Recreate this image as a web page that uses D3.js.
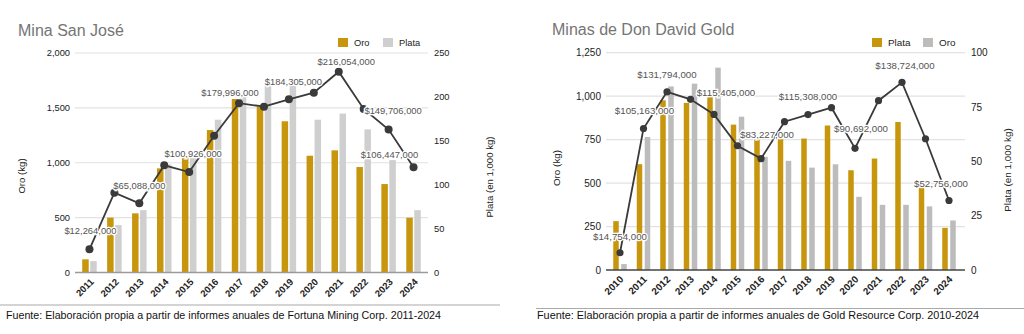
<!DOCTYPE html>
<html>
<head>
<meta charset="utf-8">
<script src="https://cdn.jsdelivr.net/npm/d3@7"></script>
<style>
  html, body { margin: 0; padding: 0; background: #fff; }
  svg { display: block; font-family: "Liberation Sans", Arial, sans-serif; }
</style>
</head>
<body>
<svg id="chart" width="1024" height="334"></svg>
<script>
// ---- Mina San José (Fortuna Mining) ----
const sjYears = ["2011","2012","2013","2014","2015","2016","2017","2018","2019","2020","2021","2022","2023","2024"];
const sjOro = [120, 500, 539, 949, 1046, 1298, 1581, 1511, 1378, 1064, 1113, 961, 806, 499];          // kg
const sjPlata = [13, 54, 71, 123, 132, 174, 200, 213, 213, 174, 181, 163, 128, 71];                    // 1,000 kg
const sjValor = [12.264, 77.2, 65.088, 108.7, 100.926, 142.6, 179.996, 175.9, 184.305, 192.0, 216.054, 173.3, 149.706, 106.447]; // USD millions
const sjLabeled = ["2011","2013","2015","2017","2019","2021","2023","2024"];
const sjOroTicks = [0, 500, 1000, 1500, 2000];
const sjPlataTicks = [0, 50, 100, 150, 200, 250];

// ---- Minas de Don David Gold (Gold Resource) ----
const ddYears = ["2010","2011","2012","2013","2014","2015","2016","2017","2018","2019","2020","2021","2022","2023","2024"];
const ddPlata = [22.5, 48.7, 78.1, 76.9, 79.6, 66.9, 60.0, 60.2, 60.5, 66.5, 45.9, 51.3, 68.1, 38.0, 19.4]; // 1,000 kg
const ddOro = [34, 765, 1056, 1072, 1164, 882, 651, 628, 589, 608, 421, 375, 375, 366, 285];                 // kg
const ddValor = [14.754, 105.163, 131.794, 126.4, 115.405, 92.6, 83.227, 110.1, 115.308, 120.3, 90.692, 125.4, 138.724, 97.7, 52.756]; // USD millions
const ddLabeled = ["2010","2011","2012","2014","2016","2018","2020","2022","2024"];
const ddOroTicks = [0, 250, 500, 750, 1000, 1250];
const ddPlataTicks = [0, 25, 50, 75, 100];

const GOLD = "#c8960c";
const svg = d3.select("#chart");
svg.append("rect").attr("width", 1024).attr("height", 334).attr("fill", "#fff");

const money = v => "$" + d3.format(",")(Math.round(v * 1e6));

function drawPanel(cfg) {
  const g = svg.append("g");
  const x = d3.scaleBand().domain(cfg.years).range(cfg.bandRange).padding(0);
  const yL = d3.scaleLinear().domain([0, cfg.leftTicks[cfg.leftTicks.length - 1]]).range([cfg.bottom, cfg.top]);
  const yR = d3.scaleLinear().domain([0, cfg.rightTicks[cfg.rightTicks.length - 1]]).range([cfg.bottom, cfg.top]);
  const yV = d3.scaleLinear().domain(cfg.valueDomain).range([cfg.bottom, cfg.top]);

  // title
  g.append("text").attr("x", cfg.titleX).attr("y", cfg.titleY)
    .attr("font-size", 16).attr("fill", "#757575").text(cfg.title);

  // gridlines
  g.append("g").selectAll("line").data(cfg.leftTicks.filter(t => t > 0)).join("line")
    .attr("x1", cfg.left).attr("x2", cfg.right)
    .attr("y1", d => yL(d)).attr("y2", d => yL(d))
    .attr("stroke", "#e2e2e2").attr("stroke-width", 1.2);

  // left axis labels
  g.append("g").selectAll("text").data(cfg.leftTicks).join("text")
    .attr("x", cfg.left - 5).attr("y", d => yL(d)).attr("dy", "0.35em")
    .attr("text-anchor", "end").attr("font-size", cfg.tickFont).attr("fill", "#222")
    .text(d => d3.format(",")(d));
  // right axis labels
  g.append("g").selectAll("text").data(cfg.rightTicks).join("text")
    .attr("x", cfg.right + 6).attr("y", d => yR(d)).attr("dy", "0.35em")
    .attr("text-anchor", "start").attr("font-size", cfg.tickFont).attr("fill", "#222")
    .text(d => d3.format(",")(d));

  // axis titles
  g.append("text").attr("transform", `translate(${cfg.leftTitleX},${cfg.leftTitleY}) rotate(-90)`)
    .attr("text-anchor", "middle").attr("font-size", cfg.axisTitleFont).attr("fill", "#222").text(cfg.leftTitle);
  g.append("text").attr("transform", `translate(${cfg.rightTitleX},${cfg.rightTitleY}) rotate(-90)`)
    .attr("text-anchor", "middle").attr("font-size", cfg.axisTitleFont).attr("fill", "#222").text(cfg.rightTitle);

  // bars: first series (left in each pair), second series (right)
  const bw = cfg.barWidth, gap = cfg.barGap;
  const cx = d => x(d) + x.bandwidth() / 2;
  cfg.series.forEach((s, si) => {
    const scale = s.axis === "left" ? yL : yR;
    const off = si === 0 ? -gap / 2 - bw : gap / 2;
    g.append("g").selectAll("rect").data(cfg.years).join("rect")
      .attr("x", (d) => cx(d) + off)
      .attr("width", bw)
      .attr("y", (d, i) => scale(s.values[i]))
      .attr("height", (d, i) => cfg.bottom - scale(s.values[i]))
      .attr("fill", s.color);
  });

  // baseline
  g.append("line").attr("x1", cfg.left).attr("x2", cfg.right)
    .attr("y1", cfg.bottom).attr("y2", cfg.bottom)
    .attr("stroke", cfg.baseColor).attr("stroke-width", 1.3);

  // x labels
  g.append("g").selectAll("text").data(cfg.years).join("text")
    .attr("transform", d => `translate(${cx(d) + cfg.xLabelDx},${cfg.bottom + cfg.xLabelDy}) rotate(-45)`)
    .attr("text-anchor", "end").attr("font-size", cfg.xFont).attr("fill", "#222")
    .attr("font-weight", "bold")
    .text(d => d);

  // value line
  const line = d3.line().x((d, i) => cx(cfg.years[i])).y(d => yV(d));
  g.append("path").datum(cfg.valor).attr("d", line)
    .attr("fill", "none").attr("stroke", "#3a3a3a").attr("stroke-width", 1.8);
  g.append("g").selectAll("circle").data(cfg.valor).join("circle")
    .attr("cx", (d, i) => cx(cfg.years[i])).attr("cy", d => yV(d))
    .attr("r", cfg.dotR).attr("fill", "#3a3a3a");

  // annotations
  g.append("g").selectAll("text").data(cfg.labeled).join("text")
    .attr("x", d => { const i = cfg.years.indexOf(d); return cx(d) + (cfg.labelOffsets[d] || [0, 0])[0]; })
    .attr("y", d => { const i = cfg.years.indexOf(d); return yV(cfg.valor[i]) + (cfg.labelOffsets[d] || [0, -14])[1]; })
    .attr("text-anchor", "middle").attr("font-size", cfg.annoFont).attr("fill", "#555")
    .attr("stroke", "#fff").attr("stroke-width", 2.5).attr("paint-order", "stroke")
    .text(d => money(cfg.valor[cfg.years.indexOf(d)]));

  // legend
  const lg = g.append("g");
  cfg.series.forEach((s, si) => {
    const lx = cfg.legendX[si];
    lg.append("rect").attr("x", lx).attr("y", cfg.legendY).attr("width", 10).attr("height", 9).attr("fill", s.color);
    lg.append("text").attr("x", lx + 16).attr("y", cfg.legendY + 8).attr("font-size", cfg.legendFont)
      .attr("fill", "#222").text(s.name);
  });

  // source note
  g.append("line").attr("x1", cfg.noteLine[0]).attr("x2", cfg.noteLine[1])
    .attr("y1", cfg.noteLineY).attr("y2", cfg.noteLineY).attr("stroke", "#aaa").attr("stroke-width", 1.2);
  g.append("text").attr("x", cfg.noteX).attr("y", cfg.noteY).attr("font-size", 10.5).attr("fill", "#111")
    .attr("textLength", cfg.noteLen).attr("lengthAdjust", "spacingAndGlyphs")
    .text(cfg.note);
}

drawPanel({
  title: "Mina San José", titleX: 18, titleY: 36,
  years: sjYears, valor: sjValor, labeled: sjLabeled,
  left: 75, right: 428, top: 53, bottom: 272.5, bandRange: [77, 426],
  leftTicks: sjOroTicks, rightTicks: sjPlataTicks, valueDomain: [-14.3, 237.5],
  series: [
    { name: "Oro", values: sjOro, axis: "left", color: GOLD },
    { name: "Plata", values: sjPlata, axis: "right", color: "#cfcfcf" }
  ],
  barWidth: 6.5, barGap: 1.5, dotR: 4,
  tickFont: 9.3, xFont: 9.5, annoFont: 9.4, legendFont: 9.3, axisTitleFont: 9.6,
  baseColor: "#9a9a9a",
  leftTitle: "Oro (kg)", leftTitleX: 25, leftTitleY: 176,
  rightTitle: "Plata (en 1,000 kg)", rightTitleX: 493, rightTitleY: 177,
  xLabelDx: 5, xLabelDy: 10,
  legendX: [338, 383], legendY: 38,
  labelOffsets: {
    "2011": [1, -15], "2013": [0, -14], "2015": [4, -15.5], "2017": [-9, -7],
    "2019": [4.5, -14], "2021": [7.5, -6.7], "2023": [4.5, -16], "2024": [-24, -9]
  },
  noteLine: [0, 500], noteLineY: 305, noteX: 6, noteY: 319, noteLen: 435,
  note: "Fuente: Elaboración propia a partir de informes anuales de Fortuna Mining Corp. 2011-2024"
});

drawPanel({
  title: "Minas de Don David Gold", titleX: 552, titleY: 35,
  years: ddYears, valor: ddValor, labeled: ddLabeled,
  left: 606, right: 965, top: 52.7, bottom: 270, bandRange: [608.25, 960.75],
  leftTicks: ddOroTicks, rightTicks: ddPlataTicks, valueDomain: [2.2, 160.3],
  series: [
    { name: "Plata", values: ddPlata, axis: "right", color: GOLD },
    { name: "Oro", values: ddOro, axis: "left", color: "#bcbcbc" }
  ],
  barWidth: 5.5, barGap: 2.5, dotR: 3.6,
  tickFont: 10, xFont: 9.8, annoFont: 9.7, legendFont: 9.9, axisTitleFont: 9.9,
  baseColor: "#444",
  leftTitle: "Oro (kg)", leftTitleX: 560, leftTitleY: 168,
  rightTitle: "Plata (en 1,000 kg)", rightTitleX: 1011, rightTitleY: 170,
  xLabelDx: 4, xLabelDy: 10,
  legendX: [872, 923], legendY: 38,
  labelOffsets: {
    "2010": [0, -13], "2011": [1, -14], "2012": [0, -14], "2014": [12, -18], "2016": [6, -20.7],
    "2018": [0, -15], "2020": [6, -16], "2022": [3, -13], "2024": [-8, -14]
  },
  noteLine: [536, 1024], noteLineY: 308.5, noteX: 537, noteY: 318.5, noteLen: 442,
  note: "Fuente: Elaboración propia a partir de informes anuales de Gold Resource Corp. 2010-2024"
});
</script>
</body>
</html>
